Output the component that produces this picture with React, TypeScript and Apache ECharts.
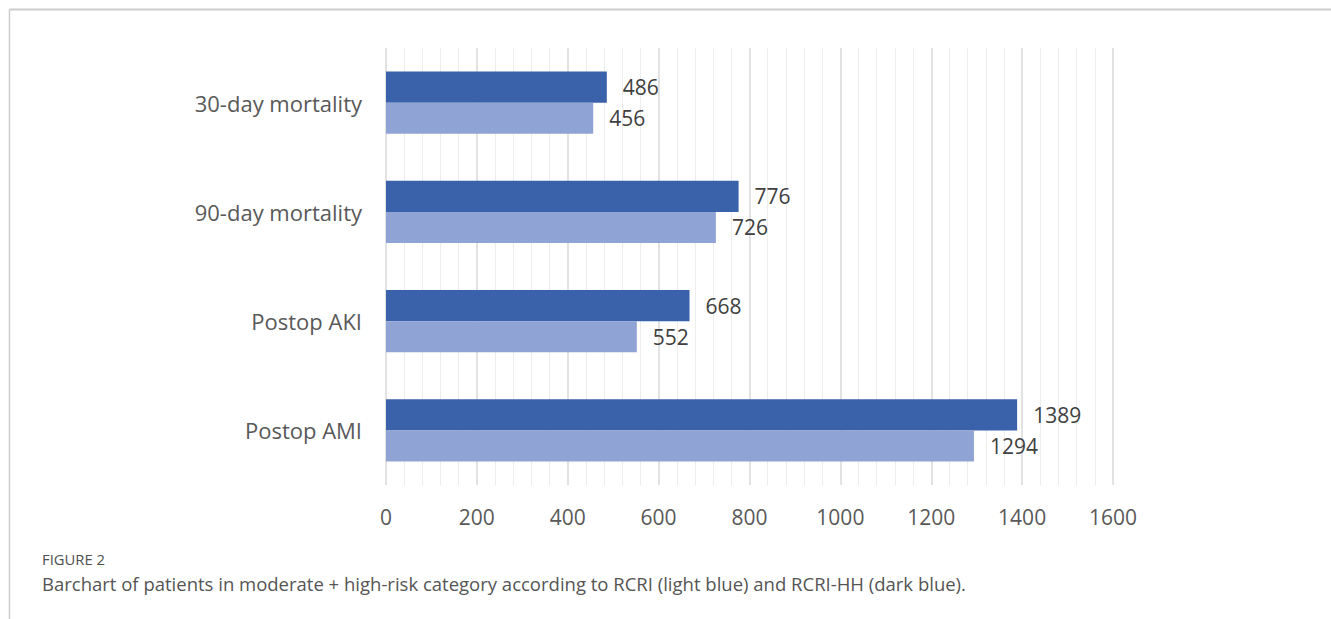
import React, { useEffect, useRef } from "react";
import * as echarts from "echarts";

const categories = ["30-day mortality", "90-day mortality", "Postop AKI", "Postop AMI"];
const rcriHH = [486, 776, 668, 1389];
const rcri = [456, 726, 552, 1294];
const axisMin = 0;
const axisMax = 1600;
const axisInterval = 200;
const figureLabel = "FIGURE 2";
const caption =
  "Barchart of patients in moderate + high-risk category according to RCRI (light blue) and RCRI-HH (dark blue).";

export default function App() {
  const ref = useRef<HTMLDivElement>(null);
  useEffect(() => {
    if (!ref.current) return;
    const chart = echarts.init(ref.current, undefined, { renderer: "svg" });
    const labelStyle = {
      show: true,
      position: "right" as const,
      distance: 16,
      fontFamily: "Open Sans",
      fontSize: 21,
      color: "#404040",
    };
    chart.setOption({
      animation: false,
      backgroundColor: "#ffffff",
      grid: { left: 386, right: 218, top: 48, bottom: 134 },
      xAxis: {
        type: "value",
        min: axisMin,
        max: axisMax,
        interval: axisInterval,
        axisLine: { show: false },
        axisTick: { show: false },
        axisLabel: {
          margin: 21,
          fontFamily: "Open Sans",
          fontSize: 21,
          color: "#595959",
          formatter: (v: number) => String(v),
        },
        splitLine: { show: true, lineStyle: { color: "#d9d9d9", width: 1.5 } },
        minorTick: { show: false, splitNumber: 5 },
        minorSplitLine: { show: true, lineStyle: { color: "#ededed", width: 1 } },
      },
      yAxis: {
        type: "category",
        data: categories,
        inverse: true,
        axisLine: { show: false },
        axisTick: { show: false },
        axisLabel: {
          margin: 24,
          fontFamily: "Open Sans",
          fontSize: 22,
          color: "#595959",
        },
      },
      series: [
        {
          name: "RCRI-HH",
          type: "bar",
          data: rcriHH,
          barGap: "0%",
          barCategoryGap: "43%",
          itemStyle: { color: "#3a62aa" },
          label: labelStyle,
        },
        {
          name: "RCRI",
          type: "bar",
          data: rcri,
          barGap: "0%",
          barCategoryGap: "43%",
          itemStyle: { color: "#8fa3d5" },
          label: labelStyle,
        },
      ],
      graphic: [
        {
          type: "line",
          shape: { x1: 9.5, y1: 9.5, x2: 1331, y2: 9.5 },
          style: { stroke: "#cccccc", lineWidth: 2 },
        },
        {
          type: "line",
          shape: { x1: 9.5, y1: 9.5, x2: 9.5, y2: 619 },
          style: { stroke: "#cccccc", lineWidth: 1.5 },
        },
        {
          type: "text",
          x: 42,
          y: 551,
          style: {
            text: figureLabel,
            fontFamily: "Open Sans",
            fontSize: 14.8,
            fill: "#4f4f4f",
          },
        },
        {
          type: "text",
          x: 42,
          y: 574,
          style: {
            text: caption,
            fontFamily: "Open Sans",
            fontSize: 18.5,
            fill: "#555555",
          },
        },
      ],
    });
    return () => chart.dispose();
  }, []);
  return (
    <div
      ref={ref}
      style={{ position: "absolute", left: 0, top: 0, width: 1331, height: 619 }}
    />
  );
}
